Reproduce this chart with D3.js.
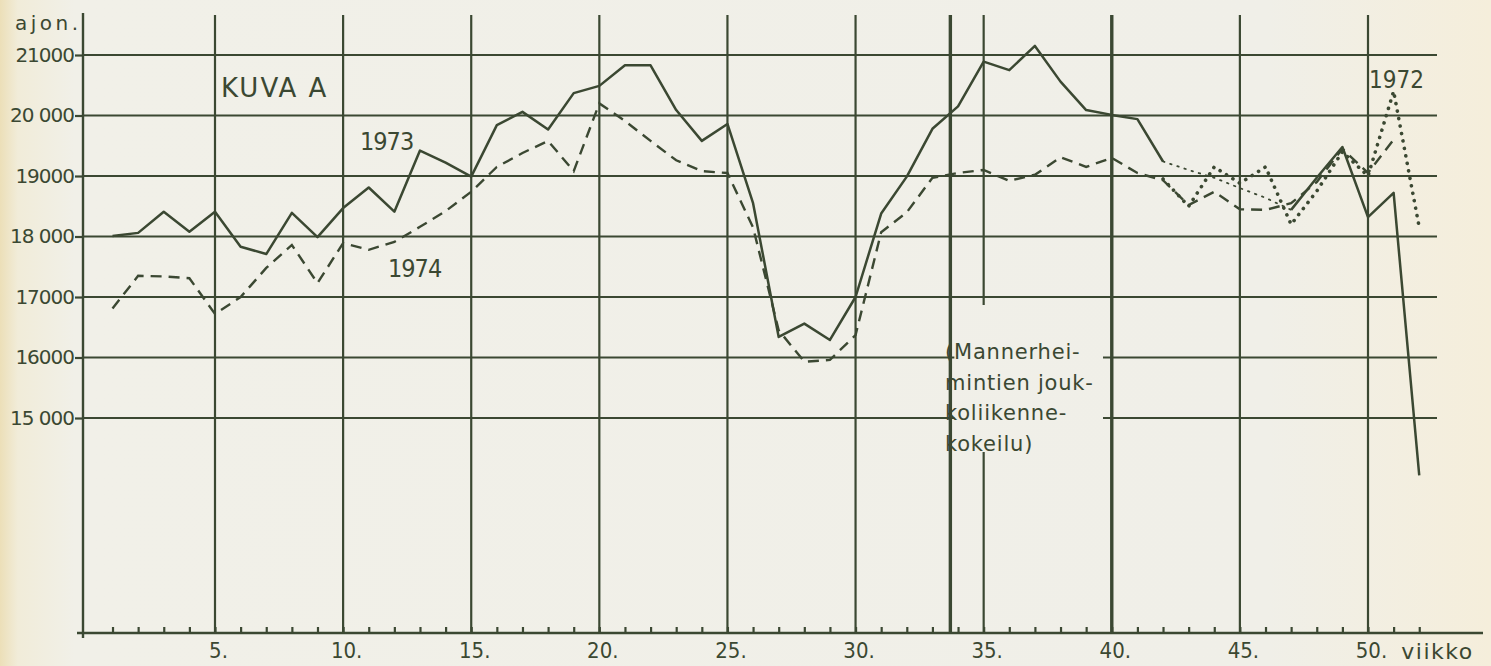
<!DOCTYPE html>
<html>
<head>
<meta charset="utf-8">
<script src="https://cdn.jsdelivr.net/npm/d3@7/dist/d3.min.js"></script>
<style>
  html, body { margin: 0; padding: 0; background: #f1f0e8; }
  svg { display: block; }
  text { fill: #3b4832; font-family: "DejaVu Sans", sans-serif; }
</style>
</head>
<body>
<svg id="chart" width="1491" height="666"></svg>
<script>
// ---------- data ----------
const weeks = d3.range(1, 53);
const values1973 = [18010,18060,18410,18080,18410,17830,17710,18390,17990,18470,
                    18810,18410,19420,19220,18990,19840,20060,19770,20370,20490,
                    20830,20830,20090,19580,19860,18550,16340,16560,16290,17000,
                    18380,18990,19780,20150,20890,20750,21150,20560,20090,20010,
                    19940,19240,19100,18970,18800,18640,18440,18970,19480,18320,
                    18720,14050];
const estimated1973 = [43, 44, 45, 46];           // weeks drawn with a fine dotted line
const weeks1974 = d3.range(1, 52);
const values1974 = [16810,17350,17340,17310,16720,17000,17480,17860,17230,17890,
                    17780,17910,18160,18420,18740,19150,19380,19580,19080,20200,
                    19910,19580,19260,19080,19050,18150,16450,15930,15960,16370,
                    18070,18400,18970,19050,19100,18920,19020,19310,19150,19300,
                    19050,18930,18520,18740,18450,18440,18550,18900,19450,19050,
                    19600];
const weeks1972 = d3.range(42, 53);
const values1972 = [18950,18500,19150,18880,19150,18200,18750,19400,19000,20400,18150];

const yTicks = [15000, 16000, 17000, 18000, 19000, 20000, 21000];
const yTickLabels = ["15 000", "16000", "17000", "18 000", "19000", "20 000", "21000"];
const xLabelWeeks = [5, 10, 15, 20, 25, 30, 35, 40, 45, 50];
const experiment = [33.7, 40];   // Mannerheimintie transit trial (weeks)
const annotationLines = ["(Mannerhei-", "mintien jouk-", "koliikenne-", "kokeilu)"];

// ---------- layout ----------
const ink = "#3b4832";
const svg = d3.select("#chart");
const W = 1491, H = 666;

const defs = svg.append("defs");
const grad = defs.append("linearGradient").attr("id", "paper").attr("x1", 0).attr("x2", 1).attr("y1", 0).attr("y2", 0);
grad.append("stop").attr("offset", "0").attr("stop-color", "#ecdfb8");
grad.append("stop").attr("offset", "0.012").attr("stop-color", "#f1ecd9");
grad.append("stop").attr("offset", "0.05").attr("stop-color", "#f1f0e8");
grad.append("stop").attr("offset", "0.85").attr("stop-color", "#f0efe8");
grad.append("stop").attr("offset", "1").attr("stop-color", "#f5eedb");
svg.append("rect").attr("width", W).attr("height", H).attr("fill", "url(#paper)");

const x = d3.scaleLinear().domain([5, 50]).range([215, 1368]);
const y = d3.scaleLinear().domain([15000, 21000]).range([418, 55]);

const axisX = 83, baseY = 633, gridTop = 15, gridRight = 1437;

const g = svg.append("g");

// horizontal grid lines (15000/16000 broken by the annotation text)
const gapLeft = x(experiment[0]) + 4, gapRight = 1103;
yTicks.forEach(v => {
  const broken = v <= 16000;
  const segs = broken ? [[axisX, gapLeft], [gapRight, gridRight]] : [[axisX, gridRight]];
  segs.forEach(s => g.append("line")
    .attr("x1", s[0]).attr("x2", s[1]).attr("y1", y(v)).attr("y2", y(v))
    .attr("stroke", ink).attr("stroke-width", 2.2));
});

// vertical grid lines
xLabelWeeks.forEach(w => {
  const thick = w === experiment[1];
  if (w === 35) {
    [[gridTop, 305], [452, baseY]].forEach(s => g.append("line")
      .attr("x1", x(w)).attr("x2", x(w)).attr("y1", s[0]).attr("y2", s[1])
      .attr("stroke", ink).attr("stroke-width", 2.2));
  } else {
    g.append("line").attr("x1", x(w)).attr("x2", x(w)).attr("y1", gridTop).attr("y2", baseY)
      .attr("stroke", ink).attr("stroke-width", thick ? 3.4 : 2.2);
  }
});
// trial start line
g.append("line").attr("x1", x(experiment[0])).attr("x2", x(experiment[0]))
  .attr("y1", gridTop).attr("y2", baseY).attr("stroke", ink).attr("stroke-width", 3.4);

// y axis
const yAxis = d3.axisLeft(y).tickValues(yTicks).tickSize(8).tickPadding(1)
  .tickFormat((d, i) => yTickLabels[i]);
const ya = svg.append("g").attr("transform", `translate(${axisX},0)`).call(yAxis);
ya.select(".domain").remove();
ya.selectAll("line").attr("stroke", ink).attr("stroke-width", 2.2);
ya.selectAll("text").attr("fill", ink).style("font-size", "20px")
  .style("font-family", "'DejaVu Sans', sans-serif").attr("letter-spacing", "-1");
svg.append("line").attr("x1", axisX).attr("x2", axisX).attr("y1", 13).attr("y2", 638)
  .attr("stroke", ink).attr("stroke-width", 2.4);

// x axis: minor ticks every week, labels every 5th
svg.append("line").attr("x1", 77).attr("x2", 1483).attr("y1", baseY).attr("y2", baseY)
  .attr("stroke", ink).attr("stroke-width", 2.4);
const xTicks = svg.append("g").attr("transform", `translate(0,${baseY})`)
  .call(d3.axisBottom(x).tickValues(weeks).tickSize(-6).tickFormat(""));
xTicks.select(".domain").remove();
xTicks.selectAll("line").attr("stroke", ink).attr("stroke-width", 2.2);
const xLab = svg.append("g").attr("transform", `translate(0,${baseY})`)
  .call(d3.axisBottom(x).tickValues(xLabelWeeks).tickSize(0).tickPadding(9).tickFormat(d => d + "."));
xLab.select(".domain").remove();
xLab.selectAll("text").attr("fill", ink).style("font-size", "22px")
  .style("font-family", "'DejaVu Sans Condensed', 'DejaVu Sans', sans-serif")
  .attr("dx", "3");
svg.append("text").attr("x", x(51.3)).attr("y", 659).text("viikko")
  .style("font-size", "22px").attr("letter-spacing", "1.5");

// ---------- series ----------
const d1973 = weeks.map((w, i) => [w, values1973[i]]);
svg.append("path")
  .attr("d", d3.line().x(d => x(d[0])).y(d => y(d[1]))
    .defined(d => !estimated1973.includes(d[0]))(d1973))
  .attr("fill", "none").attr("stroke", ink).attr("stroke-width", 2.5).attr("stroke-linejoin", "round");
const lo = d3.min(estimated1973) - 1, hi = d3.max(estimated1973) + 1;
svg.append("path")
  .attr("d", d3.line().x(d => x(d[0])).y(d => y(d[1]))(d1973.filter(d => d[0] >= lo && d[0] <= hi)))
  .attr("fill", "none").attr("stroke", ink).attr("stroke-width", 1.8)
  .attr("stroke-dasharray", "1.5,6").attr("stroke-linecap", "round");

const d1974 = weeks1974.map((w, i) => [w, values1974[i]]);
svg.append("path")
  .attr("d", d3.line().x(d => x(d[0])).y(d => y(d[1]))(d1974))
  .attr("fill", "none").attr("stroke", ink).attr("stroke-width", 2.4)
  .attr("stroke-dasharray", "11,7");

const d1972 = weeks1972.map((w, i) => [w, values1972[i]]);
svg.append("path")
  .attr("d", d3.line().x(d => x(d[0])).y(d => y(d[1]))(d1972))
  .attr("fill", "none").attr("stroke", ink).attr("stroke-width", 3.6)
  .attr("stroke-dasharray", "0.1,7.5").attr("stroke-linecap", "round");

// ---------- texts ----------
svg.append("text").attr("x", 15).attr("y", 30).text("ajon.")
  .style("font-size", "20px").attr("letter-spacing", "3.5");
svg.append("text").attr("x", 221).attr("y", 97).text("KUVA A")
  .style("font-size", "26px").attr("letter-spacing", "2");
svg.append("text").attr("x", 360).attr("y", 150).text("1973")
  .style("font-size", "25px").style("font-family", "'DejaVu Sans Condensed', sans-serif").attr("letter-spacing", "-1");
svg.append("text").attr("x", 388).attr("y", 277).text("1974")
  .style("font-size", "25px").style("font-family", "'DejaVu Sans Condensed', sans-serif").attr("letter-spacing", "-1");
svg.append("text").attr("x", 1369).attr("y", 88).text("1972")
  .style("font-size", "24px").style("font-family", "'Liberation Sans Narrow', 'DejaVu Sans Condensed', sans-serif");

const ann = svg.append("g");
annotationLines.forEach((t, i) => {
  ann.append("text").attr("x", 945).attr("y", 359 + i * 30.5).text(t)
    .style("font-size", "21px").attr("letter-spacing", "0.8");
});
</script>
</body>
</html>
